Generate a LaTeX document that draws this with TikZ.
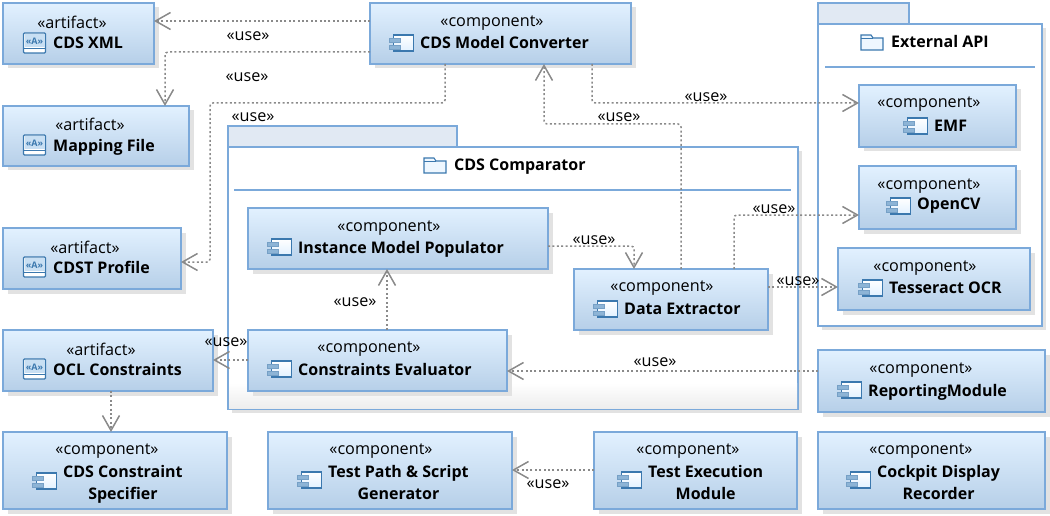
\documentclass[tikz,border=0pt]{standalone}
\usepackage{fontspec}
\setmainfont{Open Sans}
\usetikzlibrary{arrows.meta,shadows,calc}
\definecolor{edgeblue}{HTML}{7BA9DA}
\definecolor{boxtop}{HTML}{E2F1FF}
\definecolor{boxbot}{HTML}{B6CFE8}
\definecolor{tabfill}{HTML}{E1E9F3}
\definecolor{icondark}{HTML}{3B78AE}
\definecolor{iconmid}{HTML}{8DB4D6}
\definecolor{shadowc}{HTML}{E2E2E2}
\definecolor{depc}{HTML}{8A8A8A}
\tikzset{
  x=1pt,y=-1pt,
  umlbox/.style={rectangle,draw=edgeblue,line width=1.5pt,inner sep=0pt,outer sep=0pt,
    top color=boxtop,bottom color=boxbot,
    drop shadow={shadow xshift=4.5pt,shadow yshift=-4.5pt,opacity=1,fill=shadowc}},
  pkgbody/.style={rectangle,draw=edgeblue,line width=1.5pt,inner sep=0pt,outer sep=0pt,fill=white,
    drop shadow={shadow xshift=4pt,shadow yshift=-4pt,opacity=1,fill=shadowc}},
  pkgtab/.style={rectangle,draw=edgeblue,line width=1.5pt,inner sep=0pt,outer sep=0pt,fill=tabfill},
  stereo/.style={inner sep=0pt,font=\fontsize{16.2}{22}\selectfont},
  title/.style={inner sep=0pt,anchor=west,align=center,font=\fontsize{16}{22}\selectfont\bfseries},
  uselabel/.style={inner sep=0pt,fill=none,font=\fontsize{16.2}{16}\selectfont},
  dep/.style={draw=depc,line width=1.5pt,dash pattern=on 2pt off 2.4pt,rounded corners=3pt,
    -{Straight Barb[length=15pt,width=17pt,line width=1.5pt,color=depc]}},
  sepline/.style={draw=edgeblue,line width=1.2pt},
}
\newcommand{\bx}[6][umlbox]{\node[#1,minimum width={(#5-#3)*1pt},minimum height={(#6-#4)*1pt}] (#2) at ({(#3+#5)/2},{(#4+#6)/2}) {};}
\newcommand{\compicon}[1]{%
  \begin{scope}[shift={(#1)}]
    \draw[icondark,line width=1.1pt,top color=white,bottom color=boxtop] (-8,-8) rectangle (12,8);
    \draw[icondark!70,line width=.6pt,fill=iconmid] (-12,-5) rectangle (-1,-1);
    \draw[icondark!70,line width=.6pt,fill=iconmid] (-12,2) rectangle (-1,6);
  \end{scope}}
\newcommand{\compiconup}[1]{\compicon{$(#1)+(0,-3)$}}
\newcommand{\compiconhi}[1]{\compicon{$(#1)+(0,-2)$}}
\newcommand{\articon}[1]{%
  \begin{scope}[shift={(#1)}]
    \draw[icondark,line width=1.1pt,fill=white,rounded corners=1pt] (-11,-10) rectangle (11,10);
    \fill[boxtop!70!iconmid] (-10,-9) rectangle (10,4);
    \draw[icondark,line width=.8pt] (-11,5) -- (11,5);
    \node[inner sep=0pt,text=icondark,font=\fontsize{9}{9}\selectfont\bfseries] at (0,-2) {«A»};
  \end{scope}}
\newcommand{\articonhi}[1]{\articon{$(#1)+(0,-2)$}}
\newcommand{\foldericon}[1]{%
  \begin{scope}[shift={(#1)}]
    \draw[icondark,line width=1.1pt,fill=boxtop!60!white] (-11,-7) -- (-1,-7) -- (1,-4) -- (11,-4) -- (11,8) -- (-11,8) -- cycle;
    \draw[icondark,line width=.8pt] (-11,-4) -- (1,-4);
  \end{scope}}
\newcommand{\elem}[8]{\bx{#1}{#2}{#3}{#4}{#5}
  \node[stereo] (#1s) at (#7,#8) {«#6»};\elemB{#1}}
\newcommand{\elemB}[5]{\node[title] (#1n) at (#3,#4) {#2};
  #5{$(#1n.west)+(-18.5,0)$}}
\begin{document}
\begin{tikzpicture}
\useasboundingbox (0,0) rectangle (1050,516);
\bx[pkgbody]{cmpbody}{228}{147}{798}{409}
\shade[top color=white,bottom color=black!7] (229,383) rectangle (797,408);
\bx[pkgtab]{cmptab}{228}{126}{457}{147}
\coordinate (cs1) at (234,190); \coordinate (cs2) at (791,190);
\draw[sepline] (cs1) -- (cs2);
\node[title] (cmpn) at (454,167) {CDS Comparator};
\foldericon{435,165}
\bx[pkgbody]{extbody}{818}{24}{1042}{326}
\bx[pkgtab]{exttab}{818}{3}{909}{24}
\coordinate (es1) at (825,67); \coordinate (es2) at (1035,67);
\draw[sepline] (es1) -- (es2);
\node[title] (extn) at (891,42) {External API};
\foldericon{872,42}
\elem{xml}{3}{3}{154}{64}{artifact}{72}{22}{CDS XML}{53}{43}{\articon}
\elem{map}{3}{106}{189}{166}{artifact}{90}{124}{Mapping File}{53}{147}{\articonhi}
\elem{cdst}{3}{228}{181}{289}{artifact}{85}{247}{CDST Profile}{53}{267}{\articon}
\elem{ocl}{3}{330}{213}{391}{artifact}{101}{349}{OCL Constraints}{53}{369}{\articon}
\elem{spec}{3}{432}{227}{509}{component}{107}{451}{CDS Constraint\\Specifier}{63}{484}{\compiconup}
\elem{conv}{370}{3}{631}{64}{component}{492}{23}{CDS Model Converter}{420}{43}{\compicon}
\elem{emf}{859}{85}{1016}{147}{component}{929}{104}{EMF}{934}{126}{\compicon}
\elem{ocv}{859}{166}{1016}{229}{component}{929}{186}{OpenCV}{917}{206}{\compicon}
\elem{tess}{838}{248}{1030}{310}{component}{925}{268}{Tesseract OCR}{889}{288}{\compicon}
\elem{rep}{818}{350}{1045}{412}{component}{921}{370}{ReportingModule}{868}{392}{\compiconhi}
\elem{cock}{818}{432}{1045}{509}{component}{921}{451}{Cockpit Display\\Recorder}{877}{482}{\compiconhi}
\elem{exec}{594}{432}{797}{509}{component}{688}{451}{Test Execution\\Module}{648}{482}{\compiconhi}
\elem{path}{268}{432}{512}{509}{component}{381}{451}{Test Path \& Script\\Generator}{328}{482}{\compiconhi}
\elem{imp}{248}{208}{548}{269}{component}{389}{228}{Instance Model Populator}{298}{249}{\compiconhi}
\elem{de}{574}{269}{768}{330}{component}{662}{288}{Data Extractor}{624}{309}{\compicon}
\elem{ce}{248}{330}{507}{391}{component}{369}{349}{Constraints Evaluator}{298}{369}{\compicon}
\draw[dep] (conv.west |- 0,21) -- (xml.east |- 0,21);
\draw[dep] (conv.west |- 0,52) -- (165,52) -- (map.north -| 165,0);
\draw[dep] (conv.south -| 445,0) -- (445,103) -- (210,103) -- (210,262) -- (cdst.east |- 0,262);
\draw[dep] (conv.south -| 592,0) -- (592,103) -- (emf.west |- 0,103);
\draw[dep] (de.north -| 681,0) -- (681,124) -- (544,124) -- (conv.south -| 544,0);
\draw[dep] (de.north -| 734,0) -- (734,215) -- (ocv.west |- 0,215);
\draw[dep] (de.east |- 0,287) -- (tess.west |- 0,287);
\draw[dep] (imp.east |- 0,246) -- (634,246) -- (de.north -| 634,0);
\draw[dep] (ce.north -| 387,0) -- (imp.south -| 387,0);
\draw[dep] (ce.west |- 0,360) -- (ocl.east |- 0,360);
\draw[dep] (rep.west |- 0,371) -- (ce.east |- 0,371);
\draw[dep] (ocl.south -| 111,0) -- (spec.north -| 111,0);
\draw[dep] (exec.west |- 0,470) -- (path.east |- 0,470);
\node[uselabel] (u1) at (248,36) {«use»};
\node[uselabel] (u2) at (247,77) {«use»};
\node[uselabel] (u3) at (253,117) {«use»};
\node[uselabel] (u4) at (706,97) {«use»};
\node[uselabel] (u5) at (619,117) {«use»};
\node[uselabel] (u6) at (774,209) {«use»};
\node[uselabel] (u7) at (798,281) {«use»};
\node[uselabel] (u8) at (594,240) {«use»};
\node[uselabel] (u9) at (355,302) {«use»};
\node[uselabel] (u10) at (226,342) {«use»};
\node[uselabel] (u11) at (655,362) {«use»};
\node[uselabel] (u12) at (548,484) {«use»};
\end{tikzpicture}
\end{document}
